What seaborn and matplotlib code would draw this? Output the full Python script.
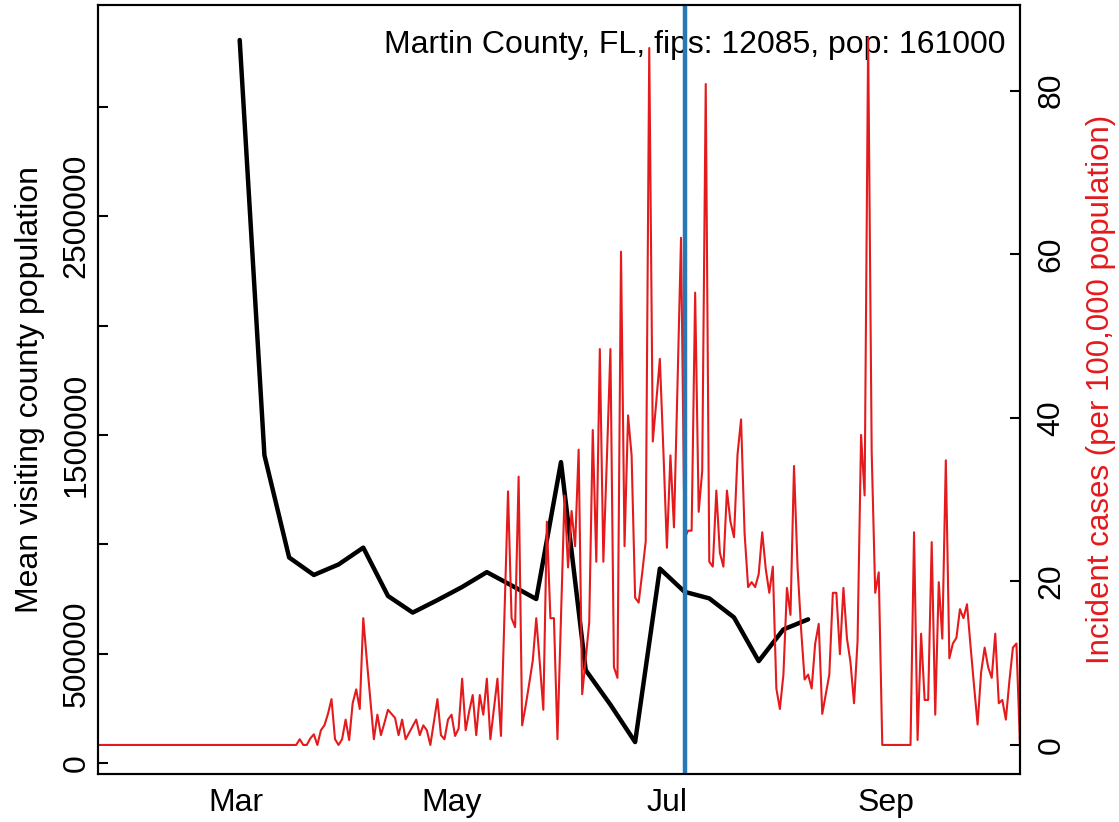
import pandas as pd
import matplotlib.pyplot as plt
import seaborn as sns

# -----------------------------
# Data
# -----------------------------
# weekly mean visiting county population (Mondays from 2020-03-02)
visit_dates = pd.date_range("2020-03-02", periods=24, freq="7D")
visitors = [3306000, 1408000, 940000, 860000, 908000, 985000, 764000, 688000,
            745000, 805000, 873000, 812000, 750000, 1376000, 425000, 267000,
            96000, 889000, 783000, 753000, 666000, 466000, 611000, 657000]

# daily incident cases per 100,000 (2020-01-22 .. 2020-10-09)
case_dates = pd.date_range("2020-01-22", "2020-10-09", freq="D")
cases = [
    # Jan 22 - Mar 17
    0, 0, 0, 0, 0, 0, 0, 0, 0, 0, 0, 0, 0, 0, 0, 0, 0, 0, 0, 0,
    0, 0, 0, 0, 0, 0, 0, 0, 0, 0, 0, 0, 0, 0, 0, 0, 0, 0, 0, 0,
    0, 0, 0, 0, 0, 0, 0, 0, 0, 0, 0, 0, 0, 0, 0, 0,
    # Mar 18 - Apr 30
    0, 0.7, 0, 0, 0.8, 1.3, 0, 1.8, 2.4, 3.8, 5.6, 0.7, 0, 0.7, 3.1,
    0.6, 5.1, 6.8, 4.4, 15.5, 10.4, 5.6, 0.7, 3.7, 1.2, 2.7, 4.3, 3.8, 3.3, 1.2,
    3.1, 0.7, 1.5, 2.3, 3.1, 1.2, 2.4, 1.8, 0, 2.8, 5.6, 1.2, 0.7, 3.1,
    # May
    3.7, 1.1, 2.0, 8.1, 1.8, 4.1, 6.1, 1.2, 6.1, 3.7, 8.1, 0.7, 4.4, 8.1, 1.1,
    16.0, 31.0, 15.5, 14.4, 32.8, 2.4, 4.8, 7.5, 10.3, 15.5, 10.0, 4.3, 27.3, 15.5, 15.5,
    0.7,
    # June
    15.5, 30.5, 21.7, 28.6, 24.3, 36.1, 6.2, 10.5, 15.0, 38.5, 22.4, 48.4, 22.4, 35.0, 48.4,
    9.5, 8.2, 60.3, 24.3, 40.3, 35.4, 18.0, 17.4, 21.0, 24.9, 85.2, 37.1, 42.0, 47.2, 36.0,
    # July
    24.1, 35.4, 26.6, 44.0, 62.0, 25.3, 26.2, 26.2, 55.3, 28.5, 33.5, 80.8, 22.4, 21.8, 31.1,
    23.5, 21.8, 31.1, 27.3, 25.4, 35.5, 39.8, 25.9, 19.3, 19.9, 19.3, 20.9, 26.0, 21.5, 18.6,
    21.8,
    # August
    6.9, 4.4, 8.6, 19.2, 15.9, 34.1, 21.8, 14.2, 8.0, 8.6, 6.9, 12.4, 14.8, 3.8, 6.2,
    8.6, 18.6, 18.6, 11.1, 19.2, 13.0, 10.1, 5.1, 12.7, 37.9, 30.5, 86.5, 35.8, 18.6, 21.1,
    0,
    # September
    0, 0, 0, 0, 0, 0, 0, 0, 26.0, 0.6, 13.6, 5.5, 5.5, 24.8, 3.7,
    19.9, 13.0, 34.8, 10.6, 12.4, 13.1, 16.6, 15.5, 17.2, 12.1, 7.2, 2.5, 8.9, 11.9, 9.5,
    # Oct 1 - 9
    8.2, 13.6, 5.1, 5.5, 3.1, 7.8, 11.9, 12.4, 0,
]

left_ticks = [0, 500000, 1000000, 1500000, 2000000, 2500000, 3000000]
left_labels = ["0", "500000", "", "1500000", "", "2500000", ""]
right_ticks = [0, 20, 40, 60, 80]
month_ticks = pd.to_datetime(["2020-03-01", "2020-05-01", "2020-07-01", "2020-09-01"])
month_labels = ["Mar", "May", "Jul", "Sep"]
marker_date = pd.Timestamp("2020-07-06")
title = "Martin County, FL, fips: 12085, pop: 161000"

# -----------------------------
# Plot
# -----------------------------
sns.set_theme(style="white")
plt.rcParams["font.family"] = ["Liberation Sans", "DejaVu Sans"]
plt.rcParams.update({"text.color": "black", "axes.labelcolor": "black",
                     "xtick.color": "black", "ytick.color": "black"})

fig = plt.figure(figsize=(11.19, 8.22), dpi=100)
ax = fig.add_axes([0.088, 0.0584, 0.8235, 0.9355])
ax2 = ax.twinx()

sns.lineplot(x=visit_dates, y=visitors, ax=ax, color="black", lw=3.2)
sns.lineplot(x=case_dates, y=cases, ax=ax2, color="#E41A1C", lw=1.5)
ax2.axvline(marker_date, color="#2878B5", lw=3.2)

ax.set_xlim(case_dates[0], case_dates[-1])
ax.set_ylim(-50000, 3466000)
ax2.set_ylim(-3.55, 90.46)

ax.set_xticks(month_ticks)
ax.set_xticklabels(month_labels)
ax.set_yticks(left_ticks)
ax.set_yticklabels(left_labels, rotation=90, va="center")
ax2.set_yticks(right_ticks)
ax2.set_yticklabels([str(t) for t in right_ticks], rotation=90, va="center")

ax.set_xlabel("")
ax.set_ylabel("Mean visiting county population", fontsize=23, labelpad=12)
ax2.set_ylabel("Incident cases (per 100,000 population)", fontsize=22.5,
               color="#E41A1C", labelpad=14)

ax.tick_params(axis="x", direction="in", length=7, width=1.5, labelsize=23, pad=10,
               colors="black")
ax.tick_params(axis="y", direction="in", length=7, width=1.5, labelsize=23, pad=5,
               colors="black")
ax2.tick_params(axis="y", direction="in", length=7, width=1.5, labelsize=23, pad=12,
                colors="black")

for a in (ax, ax2):
    for s in a.spines.values():
        s.set_color("black")
        s.set_linewidth(1.5)

ax.text(0.984, 0.948, title, transform=ax.transAxes, ha="right", va="center",
        fontsize=23, color="black", zorder=5)

fig.savefig("out.png", dpi=100)
